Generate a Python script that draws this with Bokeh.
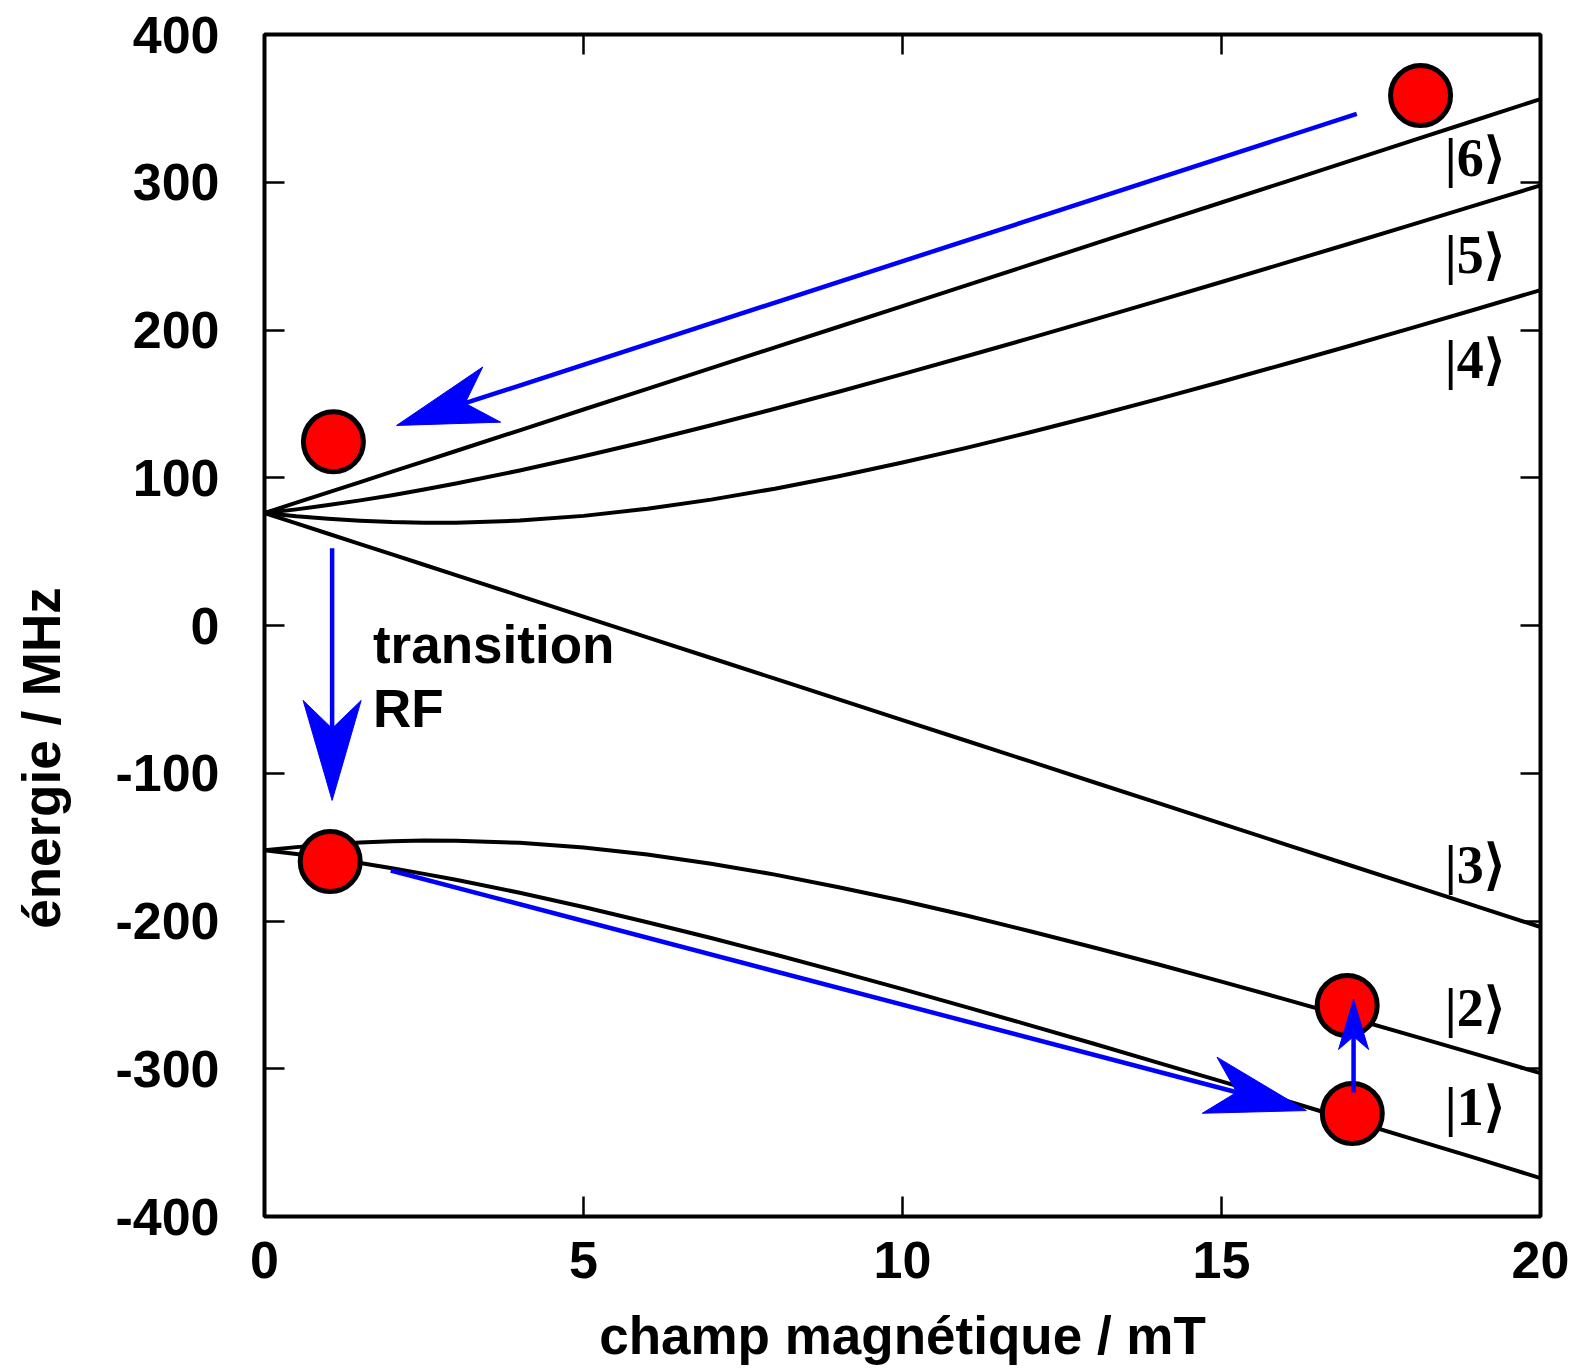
import math
from bokeh.plotting import figure
from bokeh.models import Range1d, FixedTicker, LinearAxis
from bokeh.core.properties import value
from bokeh.embed import file_html
from bokeh.resources import INLINE

# ---------------- data ----------------
field_mT = [0, 0.5, 1, 1.5, 2, 2.5, 3, 4, 5, 6, 7, 8, 9, 10, 11, 12, 13, 14,
            15, 16, 17, 18, 19, 20]
level6 = [76.1, 83.1, 90.1, 97.1, 104.1, 111.1, 118.1, 132.1, 146.2, 160.2,
          174.2, 188.2, 202.2, 216.2, 230.2, 244.2, 258.3, 272.3, 286.3, 300.3,
          314.3, 328.3, 342.3, 356.3]
level5 = [76.1, 78.6, 81.5, 84.7, 88.2, 92.0, 96.1, 104.9, 114.5, 124.7, 135.5,
          146.7, 158.2, 170.1, 182.2, 194.5, 207.0, 219.7, 232.5, 245.4, 258.4,
          271.5, 284.7, 297.9]
level4 = [76.1, 73.9, 72.2, 70.9, 70.0, 69.6, 69.6, 71.0, 74.2, 79.0, 85.2,
          92.6, 101.0, 110.3, 120.2, 130.8, 141.8, 153.2, 165.0, 177.0, 189.2,
          201.6, 214.2, 227.0]
level3 = [76.1, 69.1, 62.1, 55.1, 48.1, 41.1, 34.1, 20.1, 6.0, -8.0, -22.0,
          -36.0, -50.0, -64.0, -78.0, -92.0, -106.1, -120.1, -134.1, -148.1,
          -162.1, -176.1, -190.1, -204.1]
level2 = [-152.1, -150.0, -148.3, -146.9, -146.1, -145.6, -145.7, -147.1,
          -150.3, -155.0, -161.2, -168.6, -177.1, -186.3, -196.3, -206.9,
          -217.9, -229.3, -241.0, -253.0, -265.3, -277.7, -290.3, -303.0]
level1 = [-152.1, -154.7, -157.5, -160.8, -164.3, -168.1, -172.1, -180.9,
          -190.5, -200.8, -211.5, -222.7, -234.3, -246.1, -258.3, -270.6,
          -283.1, -295.8, -308.5, -321.5, -334.5, -347.6, -360.7, -374.0]

# atoms (red disks)
atom_B = [18.12, 1.08, 1.03, 16.97, 17.05]
atom_E = [358.7, 124.3, -159.7, -257.2, -330.3]

# blue arrows: start -> tip
arrow_start_B = [17.12, 1.06, 1.98, 17.07]
arrow_start_E = [346.3, 52.3, -165.8, -316.1]
arrow_end_B = [2.07, 1.06, 16.33, 17.07]
arrow_end_E = [135.4, -118.4, -328.3, -253.1]

# state labels
ket_texts = ["|6\u27e9", "|5\u27e9", "|4\u27e9", "|3\u27e9", "|2\u27e9", "|1\u27e9"]
ket_B = [18.50, 18.50, 18.50, 18.50, 18.50, 18.50]
ket_E = [316.5, 251.0, 179.5, -162.0, -259.0, -326.0]

# annotation text
note_lines = ["transition", "RF"]
note_B = [1.70, 1.70]
note_E = [-13.0, -56.5]

x_ticks = [0, 5, 10, 15, 20]
y_ticks = [-400, -300, -200, -100, 0, 100, 200, 300, 400]
x_title = "champ magnétique / mT"
y_title = "énergie / MHz"

# ---------------- layout ----------------
W, H = 1572, 1368
BL, BR, BT, BB = 264, 32, 34, 152
X0, X1 = 0, 20
Y0, Y1 = -400, 400
PX = (W - BL - BR) / (X1 - X0)   # px per mT
PY = (H - BT - BB) / (Y1 - Y0)   # px per MHz

p = figure(width=W, height=H, output_backend="svg", toolbar_location=None,
           x_range=Range1d(X0, X1), y_range=Range1d(Y0, Y1),
           min_border_left=BL, min_border_right=BR, min_border_top=BT,
           min_border_bottom=BB)
p.background_fill_color = "white"
p.border_fill_color = "white"
p.xgrid.visible = False
p.ygrid.visible = False
p.outline_line_color = "black"
p.outline_line_width = 4

FONT = "Liberation Sans"
TICK_PX = "52px"


def style_axis(ax, ticks, show_labels, standoff):
    ax.ticker = FixedTicker(ticks=ticks)
    ax.axis_line_color = None
    ax.major_tick_in = 20
    ax.major_tick_out = 0
    ax.minor_tick_in = 0
    ax.minor_tick_out = 0
    ax.major_tick_line_width = 2.5
    ax.major_tick_line_color = "black"
    ax.major_label_text_font = FONT
    ax.major_label_text_font_style = "bold"
    ax.major_label_text_color = "black"
    ax.major_label_standoff = standoff
    ax.major_label_overrides = {t: str(t) for t in ticks}
    ax.axis_label_text_font = FONT
    ax.axis_label_text_font_style = "bold"
    ax.axis_label_text_font_size = "53px"
    ax.axis_label_text_color = "black"
    if show_labels:
        ax.major_label_text_font_size = TICK_PX
    else:
        ax.major_label_text_font_size = "0px"
        ax.major_label_text_alpha = 0


style_axis(p.xaxis[0], x_ticks, True, 25)
style_axis(p.yaxis[0], y_ticks, True, 45)
p.xaxis[0].axis_label = x_title
p.xaxis[0].axis_label_standoff = 25
# the reference title sits lower than the frame centre: pad its far end
p.yaxis[0].axis_label = y_title + "\u00a0" * 18
p.yaxis[0].axis_label_standoff = 41

top_ax = LinearAxis()
right_ax = LinearAxis()
style_axis(top_ax, x_ticks, False, 0)
style_axis(right_ax, y_ticks, False, 0)
p.add_layout(top_ax, "above")
p.add_layout(right_ax, "right")

# ---------------- energy levels ----------------
for lev in [level6, level5, level4, level3, level2, level1]:
    p.line(field_mT, lev, line_color="black", line_width=4, line_join="round")

# ---------------- atoms ----------------
p.scatter(atom_B, atom_E, size=60, fill_color="#ff0000", line_color="black",
          line_width=5)

# ---------------- arrows (drawn over the atoms) ----------------
head_len = [100, 100, 100, 50]
head_hw = [29, 29, 29, 15]
head_notch = [72, 72, 72, 37]
seg_x0, seg_y0, seg_x1, seg_y1 = [], [], [], []
heads_x, heads_y = [], []
for i in range(len(arrow_start_B)):
    sx, sy = arrow_start_B[i] * PX, arrow_start_E[i] * PY
    ex, ey = arrow_end_B[i] * PX, arrow_end_E[i] * PY
    dx, dy = ex - sx, ey - sy
    L = math.hypot(dx, dy)
    ux, uy = dx / L, dy / L
    nx, ny = -uy, ux
    bx, by = ex - ux * head_len[i], ey - uy * head_len[i]
    kx, ky = ex - ux * head_notch[i], ey - uy * head_notch[i]
    pts = [(ex, ey), (bx + nx * head_hw[i], by + ny * head_hw[i]), (kx, ky),
           (bx - nx * head_hw[i], by - ny * head_hw[i])]
    heads_x.append([q[0] / PX for q in pts])
    heads_y.append([q[1] / PY for q in pts])
    seg_x0.append(arrow_start_B[i])
    seg_y0.append(arrow_start_E[i])
    seg_x1.append(kx / PX)
    seg_y1.append(ky / PY)

p.segment(seg_x0, seg_y0, seg_x1, seg_y1, line_color="#0000ff", line_width=4.5)
p.patches(heads_x, heads_y, fill_color="#0000ff", line_color="#0000ff",
          line_width=1)

# ---------------- ket labels ----------------
p.text(ket_B, ket_E, text=ket_texts, text_font=value("Liberation Serif"),
       text_font_style="bold", text_font_size="54px", text_color="black",
       text_align="left", text_baseline="alphabetic")

# ---------------- annotation ----------------
p.text(note_B, note_E, text=note_lines, text_font=value(FONT),
       text_font_style="bold", text_font_size="53px", text_color="black",
       text_align="left", text_baseline="alphabetic")

open("out.html", "w").write(file_html(p, INLINE))
